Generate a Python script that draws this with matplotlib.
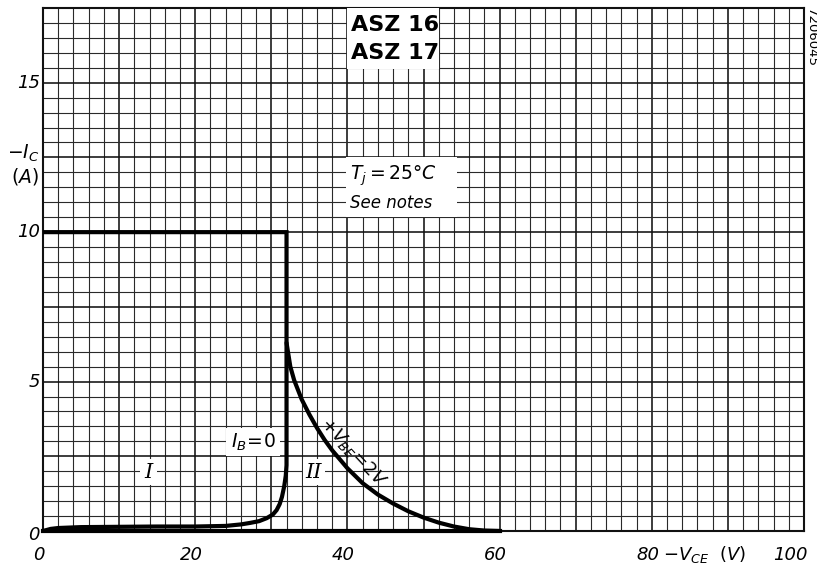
import matplotlib
matplotlib.use("Agg")
import matplotlib.pyplot as plt
from matplotlib.patches import Rectangle
import numpy as np

# Safe operating area limit: -I_C = 10 A up to -V_CE = 32 V
limit_vce = [32, 32, 0]
limit_ic = [2.2, 10, 10]

# I_B = 0 characteristic (leakage rising into breakdown)
ib0_vce = [0, 1, 2, 5, 10, 15, 20, 24, 26, 27.2, 28.4, 29.4, 30.2, 30.7, 31.1, 31.4, 31.7, 31.9, 32]
ib0_ic = [0, 0.07, 0.1, 0.13, 0.14, 0.15, 0.15, 0.17, 0.22, 0.27, 0.33, 0.43, 0.55, 0.7, 0.9, 1.14, 1.5, 1.85, 2.2]

# +V_BE = 2 V characteristic
vbe_vce = [32, 32.5, 33, 34, 35, 36, 37, 38, 40, 42, 44, 46, 48, 50, 52, 54, 56, 58, 60]
vbe_ic = [6.3, 5.5, 5.05, 4.4, 3.9, 3.45, 3.05, 2.7, 2.1, 1.6, 1.22, 0.92, 0.66, 0.45, 0.28, 0.15, 0.06, 0.015, 0]

# Base line along -I_C = 0
base_vce = [0, 60]
base_ic = [0, 0]

xtick_vals = [0, 20, 40, 60, 80, 100]
xtick_labels = ["0", "20", "40", "60", "80", "100"]
ytick_vals = [0, 5, 10, 15]
ytick_labels = ["0", "5", "10", "15"]

plt.rcParams["font.family"] = ["DejaVu Sans"]
plt.rcParams["mathtext.fontset"] = "dejavusans"

fig = plt.figure(figsize=(8.17, 5.66), dpi=100)
ax = fig.add_axes([43 / 817, 1 - 531 / 566, (804 - 43) / 817, (531 - 8) / 566])
ax.set_xlim(0, 100)
ax.set_ylim(0, 17.5)

ax.set_xticks(np.arange(0, 100.1, 10))
ax.set_xticks(np.arange(0, 100.1, 2), minor=True)
ax.set_yticks(np.arange(0, 17.6, 2.5))
ax.set_yticks(np.arange(0, 17.6, 0.5), minor=True)
ax.tick_params(which="both", length=0, labelbottom=False, labelleft=False)
ax.grid(which="minor", color="#2a2a2a", lw=0.8)
ax.grid(which="major", color="#111111", lw=1.15)
ax.set_axisbelow(True)
for s in ax.spines.values():
    s.set_linewidth(1.5)
    s.set_color("#111111")

# Characteristic curves
ax.plot(ib0_vce + limit_vce, ib0_ic + limit_ic, color="black", lw=3.0,
        solid_capstyle="butt", solid_joinstyle="miter", zorder=5)
ax.plot(vbe_vce, vbe_ic, color="black", lw=3.0, solid_capstyle="round", zorder=5)
ax.plot(base_vce, base_ic, color="black", lw=3.0, zorder=5, clip_on=False)

# White label panels
def panel(x0, y0, w, h):
    ax.add_patch(Rectangle((x0, y0), w, h, facecolor="white", edgecolor="none", zorder=3))

panel(40, 15.45, 12, 2.05)
panel(39.8, 10.5, 14.6, 2.0)
panel(24.0, 2.5, 7.2, 0.95)
panel(12.8, 1.55, 2.2, 0.85)
panel(34.2, 1.55, 2.9, 0.85)

ax.text(40.5, 16.92, "ASZ 16", fontsize=16, fontweight="bold", ha="left", va="center", zorder=6)
ax.text(40.5, 16.0, "ASZ 17", fontsize=16, fontweight="bold", ha="left", va="center", zorder=6)
ax.text(40.3, 11.9, r"$T_j = 25°C$", fontsize=13.5, ha="left", va="center", zorder=6)
ax.text(40.3, 10.97, "See notes", fontsize=12, style="italic", ha="left", va="center", zorder=6)
ax.text(27.6, 2.98, r"$I_B\!=\!0$", fontsize=13.5, ha="center", va="center", zorder=6)
ax.text(13.85, 1.97, "I", fontsize=15, family="DejaVu Serif", style="italic", ha="center", va="center", zorder=6)
ax.text(35.6, 1.97, "II", fontsize=15, family="DejaVu Serif", style="italic", ha="center", va="center", zorder=6)
ax.text(40.8, 2.65, r"$+V_{BE}\!=\!2V$", fontsize=13, rotation=-47, ha="center", va="center",
        rotation_mode="anchor", zorder=6)

# Axis labels and tick labels
for v, lab in zip(xtick_vals, xtick_labels):
    if v == 100:
        ax.text(100.5, -0.8, lab, fontsize=13, style="italic", ha="right", va="center", clip_on=False)
    else:
        ax.text(v - 0.5, -0.8, lab, fontsize=13, style="italic", ha="center", va="center", clip_on=False)
ax.text(81.5, -0.8, r"$-V_{CE}$  $(V)$", fontsize=13, ha="left", va="center", clip_on=False)

for v, lab in zip(ytick_vals, ytick_labels):
    ax.text(-0.4, v - (0.15 if v == 0 else 0), lab, fontsize=13, style="italic", ha="right", va="center", clip_on=False)
ax.text(-0.5, 12.65, r"$-I_C$", fontsize=13.5, ha="right", va="center", clip_on=False)
ax.text(-0.5, 11.85, r"$(A)$", fontsize=13.5, ha="right", va="center", clip_on=False)

fig.text(811 / 817, 1 - 37 / 566, "7206045", fontsize=9.5, rotation=270, ha="center", va="center")

fig.savefig("out.png", dpi=100, facecolor="white")
